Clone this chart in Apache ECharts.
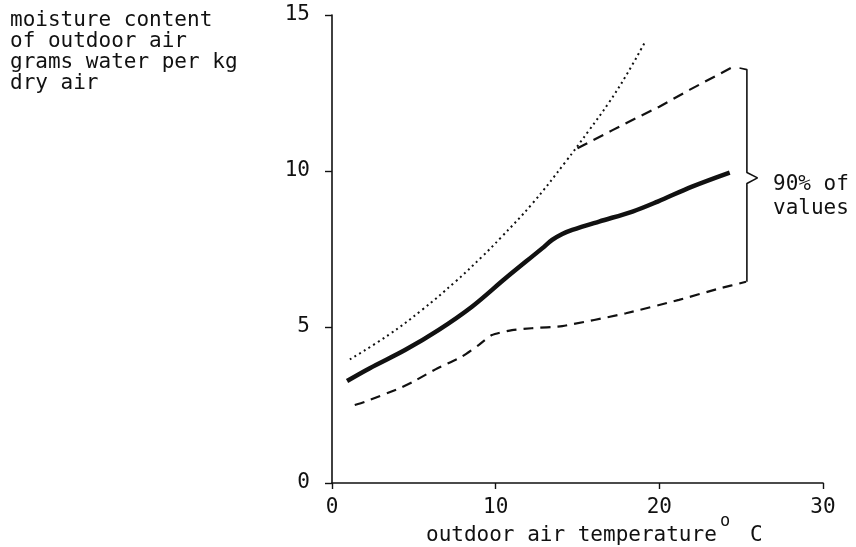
<!DOCTYPE html>
<html>
<head>
<meta charset="utf-8">
<script src="https://cdn.jsdelivr.net/npm/echarts@6/dist/echarts.min.js"></script>
<style>
  html, body { margin: 0; padding: 0; background: #fff; }
  #chart { width: 856px; height: 547px; }
</style>
</head>
<body>
<div id="chart"></div>
<script>
  // median moisture content (solid)
  const medianT = [0.92, 2.31, 4.46, 6.5, 8.55, 10.6, 12.84, 13.45, 14.07, 14.68, 16.32, 18.36, 19.9, 22.0, 24.3]
  const medianM = [3.27, 3.68, 4.26, 4.9, 5.65, 6.56, 7.52, 7.79, 7.98, 8.11, 8.38, 8.7, 9.02, 9.5, 9.95]

  // upper 5% limit (dashed)
  const upperT = [15.0, 17.14, 18.57, 20.0, 21.84, 24.4]
  const upperM = [10.73, 11.31, 11.69, 12.06, 12.6, 13.31]

  // lower 5% limit (dashed)
  const lowerT = [1.39, 2.0, 4.05, 4.97, 6.45, 7.9, 8.96, 9.77, 11.0, 12.2, 14.07, 17.96, 21.2, 23.5, 25.3]
  const lowerM = [2.5, 2.6, 3.02, 3.25, 3.68, 4.04, 4.42, 4.74, 4.9, 4.96, 5.03, 5.44, 5.87, 6.21, 6.45]

  // saturation (dotted)
  const satT = [1.09, 3.44, 5.48, 7.53, 9.16, 10.29, 12.23, 14.28, 15.7, 16.93, 17.96, 19.08]
  const satM = [3.96, 4.74, 5.54, 6.45, 7.25, 7.85, 8.95, 10.3, 11.3, 12.2, 13.05, 14.09]

  // curly bracket for "90% of values"
  const braceT = [24.9, 25.35, 25.35, 26.0, 25.35, 25.35]
  const braceM = [13.3, 13.25, 9.95, 9.78, 9.6, 6.45]

  const yTitle = ['moisture content', 'of outdoor air', 'grams water per kg', 'dry air']
  const braceText = ['90% of', 'values']
  const xTitle = 'outdoor air temperature'

  const pairs = (xs, ys) => xs.map((x, i) => [x, ys[i]])
  const fontFamily = '"DejaVu Sans Mono", monospace'
  const ink = '#111'

  let chart = echarts.init(document.getElementById('chart'))
  let option = {
    animation: false,
    grid: {left: 332, right: 33, top: 15, bottom: 64},
    xAxis: {
      type: 'value', min: 0, max: 30, interval: 10,
      splitLine: {show: false},
      axisLine: {lineStyle: {color: ink, width: 1.6}},
      axisTick: {length: 6, lineStyle: {color: ink, width: 1.4}},
      axisLabel: {color: ink, fontFamily: fontFamily, fontSize: 21, margin: 14}
    },
    yAxis: {
      type: 'value', min: 0, max: 15, interval: 5,
      splitLine: {show: false},
      axisLine: {show: true, lineStyle: {color: ink, width: 1.6}},
      axisTick: {show: true, length: 7, lineStyle: {color: ink, width: 1.4}},
      axisLabel: {color: ink, fontFamily: fontFamily, fontSize: 21, margin: 22}
    },
    graphic: [
      {type: 'text', x: 10, y: 10, style: {text: yTitle.join('\n'), fontFamily: fontFamily, fontSize: 21, lineHeight: 21, fill: ink, verticalAlign: 'top'}},
      {type: 'text', x: 773, y: 173, style: {text: braceText.join('\n'), fontFamily: fontFamily, fontSize: 21, lineHeight: 24, fill: ink, verticalAlign: 'top'}},
      {type: 'text', x: 426, y: 525, style: {text: xTitle, fontFamily: fontFamily, fontSize: 21, lineHeight: 21, fill: ink, verticalAlign: 'top'}},
      {type: 'text', x: 720, y: 513, style: {text: 'o', fontFamily: fontFamily, fontSize: 17, fill: ink, verticalAlign: 'top'}},
      {type: 'text', x: 750, y: 525, style: {text: 'C', fontFamily: fontFamily, fontSize: 21, lineHeight: 21, fill: ink, verticalAlign: 'top'}}
    ],
    series: [
      {
        type: 'line', data: pairs(satT, satM), symbol: 'none', smooth: 0.4,
        lineStyle: {color: ink, width: 2, type: [2, 3.5]}
      },
      {
        type: 'line', data: pairs(upperT, upperM), symbol: 'none',
        lineStyle: {color: ink, width: 2.2, type: [11, 7]}
      },
      {
        type: 'line', data: pairs(lowerT, lowerM), symbol: 'none', smooth: 0.2,
        lineStyle: {color: ink, width: 2.2, type: [10, 7]}
      },
      {
        type: 'line', data: pairs(medianT, medianM), symbol: 'none', smooth: 0.35,
        lineStyle: {color: ink, width: 4.5}
      },
      {
        type: 'line', data: pairs(braceT, braceM), symbol: 'none',
        lineStyle: {color: ink, width: 1.6}
      }
    ]
  }
  chart.setOption(option)
</script>
</body>
</html>
